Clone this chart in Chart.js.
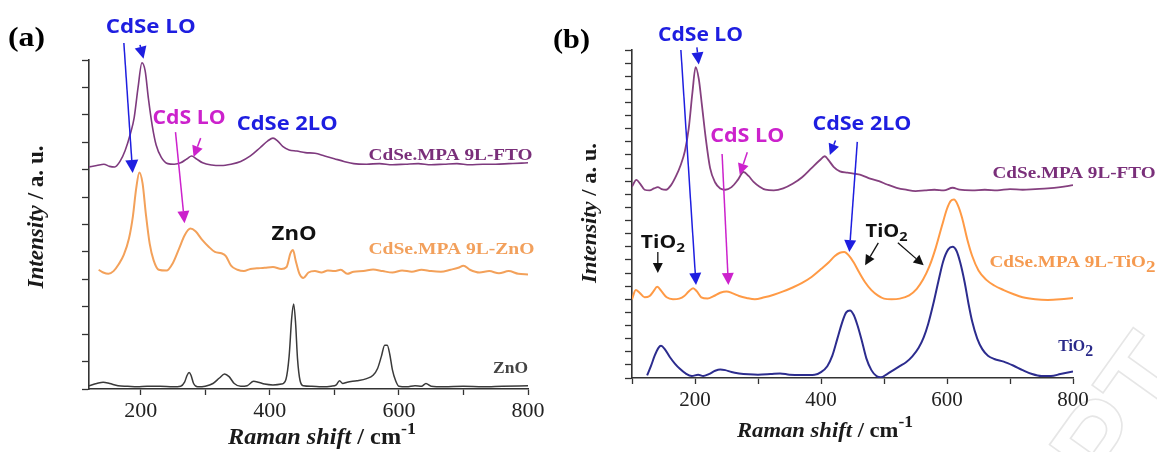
<!DOCTYPE html>
<html lang="en">
<head>
  <meta charset="UTF-8" />
  <title>Raman spectra</title>
  <script src="https://cdn.jsdelivr.net/npm/chart.js"></script>
  <style>
    body { margin: 0; background: #fff; width: 1157px; height: 452px; overflow: hidden; }
    canvas { position: absolute; top: 0; }
    #chartA { left: 0; }
    #chartB { left: 550px; }
  </style>
</head>
<body>
  <canvas id="chartA" width="550" height="452"></canvas>
  <canvas id="chartB" width="607" height="452"></canvas>
  <script>
    // ---- panel (a): CdSe on FTO / ZnO ----
    const aFtoX = [120,132,143,152,160,168,176,184,190,196,202,207,212,218,224,232,242,252,262,272,279,286,296,310,325,340,355,370,385,397,405,412,420,430,442,455,470,485,500,515,530,550,570,590,610,630,650,670,690,710,730,750,770,790,800];
    const aFtoY = [8.1,8.15,8.2,8.12,8.1,8.3,8.7,9.3,9.9,11.0,11.9,11.6,10.6,9.6,8.9,8.45,8.22,8.2,8.25,8.4,8.5,8.4,8.25,8.17,8.15,8.2,8.3,8.5,8.8,9.05,9.15,9.05,8.85,8.72,8.68,8.62,8.6,8.5,8.4,8.3,8.22,8.2,8.22,8.18,8.2,8.22,8.18,8.2,8.22,8.18,8.2,8.2,8.22,8.24,8.25];

    const aZnoCdseX = [135,142,150,158,166,174,182,188,193,198,203,208,214,220,228,240,250,260,268,277,285,295,305,315,325,332,340,350,360,370,380,392,405,418,426,432,436,440,446,452,460,470,480,490,500,510,520,530,545,560,575,590,605,620,635,650,665,680,692,700,710,725,740,755,770,785,800];
    const aZnoCdseY = [4.35,4.25,4.2,4.3,4.55,4.9,5.5,6.3,7.3,7.9,7.5,6.4,5.3,4.7,4.35,4.32,4.6,5.15,5.6,5.85,5.75,5.45,5.2,5.0,4.95,4.85,4.5,4.35,4.3,4.38,4.4,4.42,4.45,4.38,4.45,4.95,5.07,4.7,4.2,4.05,4.25,4.3,4.25,4.32,4.3,4.35,4.2,4.28,4.3,4.36,4.3,4.25,4.32,4.28,4.35,4.3,4.28,4.35,4.42,4.5,4.35,4.25,4.3,4.22,4.3,4.2,4.18];

    const aZnoX = [120,132,142,152,165,180,195,210,230,250,262,268,272,275,278,282,288,300,312,322,330,337,345,355,365,375,382,392,405,418,425,430,434,437,440,443,447,452,465,480,495,503,508,513,520,535,550,560,567,573,578,582,586,590,595,600,612,625,635,642,650,670,700,730,760,800];
    const aZnoY = [0.12,0.2,0.25,0.2,0.12,0.1,0.08,0.1,0.1,0.08,0.1,0.25,0.5,0.6,0.5,0.2,0.08,0.1,0.2,0.4,0.55,0.45,0.2,0.1,0.12,0.28,0.25,0.18,0.15,0.18,0.35,1.2,2.6,3.1,2.4,1.1,0.3,0.12,0.1,0.08,0.1,0.15,0.3,0.2,0.25,0.3,0.38,0.5,0.75,1.2,1.6,1.6,1.25,0.7,0.3,0.1,0.08,0.12,0.1,0.2,0.1,0.08,0.1,0.08,0.1,0.12];

    // ---- panel (b): CdSe on FTO / TiO2 ----
    const bFtoX = [100,107,113,120,128,135,141,147,154,162,170,177,184,190,196,201,206,211,217,224,232,240,248,258,268,277,285,293,302,312,325,340,355,370,385,398,406,412,420,430,442,455,465,478,492,505,520,535,550,565,580,595,609,620,640,660,680,700,720,740,760,780,800];
    const bFtoY = [14.6,15.1,14.8,14.35,14.3,14.45,14.55,14.4,14.35,14.7,15.4,16.2,17.3,19.0,21.8,23.7,22.8,20.8,18.3,16.0,14.9,14.45,14.35,14.55,15.1,15.7,15.4,14.95,14.6,14.35,14.3,14.45,14.8,15.3,16.0,16.6,16.9,16.6,16.1,15.75,15.65,15.55,15.45,15.2,15.0,14.75,14.5,14.35,14.25,14.3,14.35,14.3,14.5,14.35,14.3,14.35,14.3,14.4,14.35,14.4,14.45,14.55,14.7];

    const bTioCdseX = [100,106,112,120,128,134,140,147,155,165,175,183,190,197,203,210,220,230,240,250,260,270,282,295,310,325,340,355,370,385,400,412,422,430,437,444,452,460,470,480,490,500,512,525,540,552,562,572,582,592,600,606,611,617,624,632,640,650,662,675,690,705,720,740,760,780,800];
    const bTioCdseY = [6.0,6.7,6.5,6.15,6.25,6.6,6.95,6.6,6.15,6.0,6.05,6.25,6.6,6.85,6.6,6.15,6.05,6.25,6.5,6.6,6.45,6.25,6.1,6.0,6.15,6.35,6.6,6.9,7.25,7.7,8.3,8.8,9.3,9.55,9.6,9.35,8.8,8.1,7.3,6.7,6.3,6.05,6.0,6.05,6.3,6.8,7.5,8.5,9.9,11.6,12.9,13.5,13.6,13.2,12.2,10.6,9.3,8.2,7.5,7.05,6.7,6.4,6.15,6.0,5.95,6.0,6.1];

    const bTioX = [124,130,136,142,146,152,160,168,176,185,195,205,213,222,232,240,248,258,270,285,300,320,335,350,370,390,400,410,418,426,434,440,446,452,458,465,472,480,488,495,505,515,525,535,545,555,563,570,578,586,594,602,609,615,621,628,634,640,648,656,665,675,690,705,720,735,750,765,780,800];
    const bTioY = [0.2,0.9,1.7,2.3,2.45,2.2,1.6,1.1,0.7,0.35,0.15,0.25,0.15,0.3,0.55,0.65,0.6,0.45,0.35,0.28,0.25,0.3,0.35,0.25,0.22,0.25,0.45,0.9,1.7,3.0,4.3,5.0,5.15,4.8,4.0,2.8,1.5,0.6,0.15,0.05,0.3,0.6,0.9,1.2,1.65,2.3,3.1,4.1,5.6,7.3,8.9,9.8,10.0,9.7,8.8,7.3,5.7,4.3,3.0,2.2,1.7,1.45,1.25,0.95,0.6,0.3,0.15,0.15,0.3,0.5];

    // axis ticks
    const aXTicks = [200,300,400,500,600,700,800];
    const bXTicks = [100,200,300,400,500,600,700,800];
    const xLabels = [200,400,600,800];
    const aYTicks = [0,1,2,3,4,5,6,7,8,9,10,11,12];
    const bYTicks = Array.from({length: 26}, (_, i) => i);

    const BLUE = '#1e1ee0', MAGENTA = '#cc22cc', BLACK = '#111';
    const SANS = 'bold 19px "Open Sans"';
    const SERIF = 'bold 17px "Liberation Serif"';

    function pts(xs, ys) { return xs.map((x, i) => ({ x: x, y: ys[i] })); }

    // draws text pieces side by side, optionally squeezed/stretched to a width
    function drawRich(ctx, parts, x, y, align, width) {
      let total = 0;
      parts.forEach(p => { ctx.font = p.font; total += ctx.measureText(p.t).width; });
      const sx = width ? width / total : 1;
      ctx.save();
      ctx.translate(x, y);
      ctx.scale(sx, 1);
      ctx.textBaseline = 'middle';
      ctx.textAlign = 'left';
      let cx = align === 'center' ? -total / 2 : align === 'right' ? -total : 0;
      parts.forEach(p => {
        ctx.font = p.font;
        ctx.fillStyle = p.color;
        ctx.fillText(p.t, cx, p.dy || 0);
        cx += ctx.measureText(p.t).width;
      });
      ctx.restore();
    }

    function arrow(ctx, x1, y1, x2, y2, color, lw, head) {
      const ang = Math.atan2(y2 - y1, x2 - x1);
      const bx = x2 - head * Math.cos(ang), by = y2 - head * Math.sin(ang);
      ctx.save();
      ctx.strokeStyle = color;
      ctx.fillStyle = color;
      ctx.lineWidth = lw;
      ctx.beginPath();
      ctx.moveTo(x1, y1);
      ctx.lineTo(bx, by);
      ctx.stroke();
      const w = head * 0.5;
      ctx.beginPath();
      ctx.moveTo(x2, y2);
      ctx.lineTo(bx + w * Math.sin(ang), by - w * Math.cos(ang));
      ctx.lineTo(bx - w * Math.sin(ang), by + w * Math.cos(ang));
      ctx.closePath();
      ctx.fill();
      ctx.restore();
    }

    function label(t, color, font) { return [{ t: t, font: font, color: color }]; }
    function tio2(color, font, sub, prefix) {
      return [{ t: (prefix || '') + 'TiO', font: font, color: color }, { t: '2', font: sub, color: color, dy: 5 }];
    }

    // faint "accepted manuscript" stamp in the lower right corner
    const stamp = {
      id: 'stamp',
      beforeDraw(chart, args, opts) {
        if (!opts.show) return;
        const ctx = chart.ctx;
        ctx.save();
        ctx.translate(opts.at[0], opts.at[1]);
        ctx.rotate(-0.95);
        ctx.font = 'bold 120px "Liberation Sans"';
        ctx.strokeStyle = '#e6e6e6';
        ctx.lineWidth = 1.6;
        ctx.textBaseline = 'middle';
        ctx.strokeText(opts.text, 0, 0);
        ctx.restore();
      }
    };

    const annotate = {
      id: 'annotate',
      afterDraw(chart, args, opts) {
        const ctx = chart.ctx;
        const sx = chart.scales.x, sy = chart.scales.y;
        const X = v => sx.getPixelForValue(v), Y = v => sy.getPixelForValue(v);
        opts.arrows.forEach(a => arrow(ctx, X(a.from[0]), Y(a.from[1]), X(a.to[0]), Y(a.to[1]), a.color, a.lw || 1.5, a.head || 12));
        opts.texts.forEach(t => drawRich(ctx, t.parts, X(t.at[0]), Y(t.at[1]), t.align || 'center', t.w));

        // panel letter and axis titles
        drawRich(ctx, [{ t: opts.panel, font: 'bold 28px "Liberation Serif"', color: '#000' }], opts.panelPos[0], opts.panelPos[1], 'left', 37);
        const tf = opts.titleSize;
        drawRich(ctx, [
          { t: 'Raman shift', font: 'italic bold ' + tf + 'px "Liberation Serif"', color: '#1a1a1a' },
          { t: ' / cm', font: 'bold ' + tf + 'px "Liberation Serif"', color: '#1a1a1a' },
          { t: '-1', font: 'bold ' + Math.round(tf * 0.75) + 'px "Liberation Serif"', color: '#1a1a1a', dy: -8 }
        ], opts.xTitle[0], opts.xTitle[1], 'center', opts.xTitle[2]);
        ctx.save();
        ctx.translate(opts.yTitle[0], opts.yTitle[1]);
        ctx.rotate(-Math.PI / 2);
        drawRich(ctx, [
          { t: 'Intensity', font: 'italic bold ' + tf + 'px "Liberation Serif"', color: '#1a1a1a' },
          { t: ' / a. u.', font: 'bold ' + tf + 'px "Liberation Serif"', color: '#1a1a1a' }
        ], 0, 0, 'center', opts.yTitle[2]);
        ctx.restore();
      }
    };

    function makeChart(id, datasets, xr, yr, xTicks, yTicks, area, tickSize, notes, mark) {
      return new Chart(document.getElementById(id), {
        type: 'line',
        data: { datasets: datasets },
        plugins: [stamp, annotate],
        options: {
          responsive: false,
          animation: false,
          events: [],
          layout: { padding: { left: 0, right: area.right, top: area.top, bottom: 0 } },
          elements: { point: { radius: 0 }, line: { cubicInterpolationMode: 'monotone' } },
          plugins: { legend: { display: false }, tooltip: { enabled: false }, annotate: notes, stamp: mark },
          scales: {
            x: {
              type: 'linear', min: xr[0], max: xr[1],
              afterBuildTicks: s => { s.ticks = xTicks.map(v => ({ value: v })); },
              afterFit: s => { s.height = area.xh; },
              grid: { drawOnChartArea: false, drawTicks: true, tickLength: 6, tickColor: '#333', tickWidth: 1.3 },
              border: { display: true, color: '#333', width: 1.6 },
              ticks: {
                autoSkip: false, maxRotation: 0, padding: area.pad, color: '#222',
                font: { family: 'Liberation Serif', size: tickSize },
                callback: v => xLabels.includes(v) ? String(v) : ''
              }
            },
            y: {
              type: 'linear', min: yr[0], max: yr[1],
              afterBuildTicks: s => { s.ticks = yTicks.map(v => ({ value: v })); },
              afterFit: s => { s.width = area.left; },
              grid: { drawOnChartArea: false, drawTicks: true, tickLength: 7, tickColor: '#333', tickWidth: 1.3 },
              border: { display: true, color: '#333', width: 1.6 },
              ticks: { display: false }
            }
          }
        }
      });
    }

    makeChart('chartA', [
      { data: pts(aFtoX, aFtoY), borderColor: '#7e3a7e', borderWidth: 1.6 },
      { data: pts(aZnoCdseX, aZnoCdseY), borderColor: '#f3a15a', borderWidth: 2 },
      { data: pts(aZnoX, aZnoY), borderColor: '#3a3a3a', borderWidth: 1.5 }
    ], [120, 800], [0, 12], aXTicks, aYTicks,
      { left: 89, right: 22, top: 60, xh: 63, pad: 3 }, 22, {
        panel: '(a)', panelPos: [8, 39], titleSize: 23,
        xTitle: [322, 438, 188], yTitle: [37, 217, 143],
        texts: [
          { parts: label('CdSe LO', BLUE, SANS), at: [215.5, 13.2], w: 90 },
          { parts: label('CdS LO', MAGENTA, SANS), at: [275, 9.88], w: 73 },
          { parts: label('CdSe 2LO', BLUE, SANS), at: [427, 9.66], w: 101 },
          { parts: label('ZnO', BLACK, SANS), at: [437.7, 5.62], w: 45 },
          { parts: label('CdSe.MPA 9L-FTO', '#7a2f7a', SERIF), at: [807, 8.53], align: 'right', w: 164 },
          { parts: label('CdSe.MPA 9L-ZnO', '#f2a05c', SERIF), at: [810, 5.07], align: 'right', w: 166 },
          { parts: label('ZnO', '#444', SERIF), at: [800, 0.73], align: 'right', w: 35 }
        ],
        arrows: [
          { from: [174, 12.62], to: [187.6, 7.88], color: BLUE, head: 13 },
          { from: [199, 12.55], to: [204.5, 12.05], color: BLUE, head: 12 },
          { from: [254, 9.37], to: [268, 6.05], color: MAGENTA, head: 12 },
          { from: [293, 9.15], to: [282, 8.46], color: MAGENTA, head: 11 }
        ]
      }, { show: false });

    makeChart('chartB', [
      { data: pts(bFtoX, bFtoY), borderColor: '#85407f', borderWidth: 1.8 },
      { data: pts(bTioCdseX, bTioCdseY), borderColor: '#ff9a45', borderWidth: 2 },
      { data: pts(bTioX, bTioY), borderColor: '#2c2c8e', borderWidth: 2 }
    ], [100, 800], [0, 25], bXTicks, bYTicks,
      { left: 82, right: 84, top: 50, xh: 74, pad: 4 }, 21, {
        panel: '(b)', panelPos: [3, 41], titleSize: 22,
        xTitle: [275, 431, 176], yTitle: [40, 213, 140],
        texts: [
          { parts: label('CdSe LO', BLUE, SANS), at: [208.8, 26.1], w: 85 },
          { parts: label('CdS LO', MAGENTA, SANS), at: [283, 18.4], w: 74 },
          { parts: label('CdSe 2LO', BLUE, SANS), at: [465, 19.3], w: 99 },
          { parts: tio2(BLACK, 'bold 18px "Open Sans"', 'bold 13px "Open Sans"'), at: [149, 10.3], w: 44 },
          { parts: tio2(BLACK, 'bold 18px "Open Sans"', 'bold 13px "Open Sans"'), at: [504, 11.1], w: 42 },
          { parts: label('CdSe.MPA 9L-FTO', '#7a2f7a', SERIF), at: [931, 15.6], align: 'right', w: 163 },
          { parts: tio2('#f59a50', SERIF, SERIF, 'CdSe.MPA 9L-'), at: [931, 8.77], align: 'right', w: 166 },
          { parts: tio2('#2a2a8a', SERIF, SERIF), at: [832, 2.36], align: 'right', w: 35 }
        ],
        arrows: [
          { from: [177.6, 25.0], to: [201.6, 7.09], color: BLUE, head: 12 },
          { from: [203, 25.2], to: [206, 23.9], color: BLUE, head: 12 },
          { from: [243, 17.07], to: [253, 7.09], color: MAGENTA, head: 12 },
          { from: [283, 17.2], to: [271, 15.5], color: MAGENTA, head: 11 },
          { from: [423, 18.1], to: [414, 17.0], color: BLUE, head: 11 },
          { from: [457.6, 18.0], to: [445, 9.6], color: BLUE, head: 12 },
          { from: [141, 9.6], to: [141, 8.0], color: BLACK, head: 10, lw: 1.3 },
          { from: [491, 10.3], to: [470, 8.6], color: BLACK, head: 10, lw: 1.3 },
          { from: [522, 10.3], to: [563, 8.6], color: BLACK, head: 10, lw: 1.3 }
        ]
      }, { show: true, text: 'PT', at: [535, 480] });
  </script>
</body>
</html>
